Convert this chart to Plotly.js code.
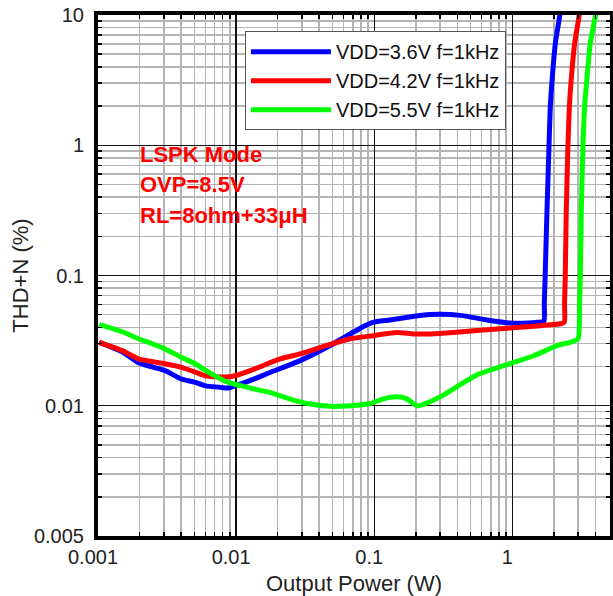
<!DOCTYPE html>
<html><head><meta charset="utf-8">
<script src="https://cdn.plot.ly/plotly-3.0.1.min.js"></script>
<style>html,body{margin:0;padding:0;background:#fff;}</style>
</head><body>
<div id="chart" style="width:613px;height:596px;"></div>
<script>
// Series data (Output Power W, THD+N %)
var seriesNames = ["VDD=3.6V f=1kHz", "VDD=4.2V f=1kHz", "VDD=5.5V f=1kHz"];
var seriesColors = ["#0000ff", "#ff0000", "#00ff00"];

var blueX = [0.00102,0.0015,0.00195,0.0025,0.00306,0.00404,0.005,0.006,0.0075,0.0088,0.0098,0.0126,0.0176,0.0291,0.048,0.067,0.085,0.098,0.13,0.18,0.255,0.30,0.42,0.656,0.967,1.3,1.51,1.69,1.706,1.73,1.784,1.845,1.885,1.95,2.05,2.2,2.25];
var blueY = [0.0307,0.026,0.0215,0.0198,0.0186,0.016,0.0152,0.0142,0.0139,0.0137,0.0142,0.0156,0.018,0.0222,0.029,0.0356,0.041,0.0437,0.0456,0.048,0.0501,0.0504,0.0494,0.0456,0.0432,0.0432,0.0437,0.0445,0.0606,0.1,0.316,1,1.97,3.35,6.06,9.7,12];

var redX = [0.00102,0.0015,0.00196,0.0025,0.00306,0.00404,0.005,0.006,0.0083,0.0098,0.0137,0.0208,0.0291,0.048,0.067,0.098,0.146,0.193,0.255,0.376,0.656,1.02,1.6,2.23,2.38,2.39,2.42,2.46,2.53,2.59,2.68,2.83,3.04,3.1];
var redY = [0.0307,0.0265,0.0229,0.0218,0.021,0.0197,0.0182,0.017,0.0166,0.017,0.0192,0.0229,0.025,0.0296,0.0327,0.0345,0.0365,0.0356,0.0356,0.0365,0.0384,0.0397,0.0412,0.0426,0.0437,0.0606,0.1,0.316,1,1.97,3.35,6.06,9.7,12];

var greenX = [0.00102,0.0015,0.00196,0.0025,0.00306,0.00404,0.00505,0.00667,0.0088,0.011,0.0137,0.0176,0.0246,0.0344,0.048,0.067,0.0935,0.1167,0.146,0.1725,0.19,0.207,0.23,0.30,0.42,0.555,0.774,1.02,1.43,2.11,2.63,2.99,3.07,3.11,3.16,3.25,3.34,3.48,3.67,3.99,4.1];
var greenY = [0.042,0.037,0.0327,0.0298,0.0273,0.0235,0.021,0.0175,0.0151,0.0142,0.0134,0.01265,0.01125,0.0103,0.0099,0.01,0.0104,0.0113,0.0117,0.0113,0.0105,0.0100,0.0103,0.0117,0.0145,0.0173,0.0195,0.0215,0.0242,0.029,0.0307,0.0327,0.0606,0.1,0.316,1,1.97,3.35,6.06,9.7,12];

// Axis ticks
var xMajorVals = [0.001, 0.01, 0.1, 1];
var xMajorText = ["0.001", "0.01", "0.1", "1"];
var yMajorVals = [0.001, 0.01, 0.1, 1, 10];
var yMajorText = ["0.005", "0.01", "0.1", "1", "10"];
var xMinorVals = [0.002,0.003,0.004,0.005,0.006,0.007,0.008,0.009,0.02,0.03,0.04,0.05,0.06,0.07,0.08,0.09,0.2,0.3,0.4,0.5,0.6,0.7,0.8,0.9,2,3,4];
var yMinorVals = [0.002,0.003,0.004,0.005,0.006,0.007,0.008,0.009,0.02,0.03,0.04,0.05,0.06,0.07,0.08,0.09,0.2,0.3,0.4,0.5,0.6,0.7,0.8,0.9,2,3,4,5,6,7,8,9];

var notes = ["LSPK Mode", "OVP=8.5V", "RL=8ohm+33μH"];

var xs = [blueX, redX, greenX];
var ys = [blueY, redY, greenY];
var traces = [];
for (var i = 0; i < 3; i++) {
  traces.push({
    x: xs[i], y: ys[i], type: 'scatter', mode: 'lines',
    name: seriesNames[i],
    line: {color: seriesColors[i], width: 5, shape: 'spline', smoothing: 0.6}
  });
}

var FONT = 'Liberation Sans, Arial, sans-serif';
var xr = [Math.log10(0.001), Math.log10(5.1)];
var yr = [Math.log10(0.001), Math.log10(10)];

function minorSpec(vals) {
  return {tickmode: 'array', tickvals: vals, showgrid: true, gridcolor: '#b4b4b4', gridwidth: 1.5,
          ticks: 'inside', ticklen: 4, tickwidth: 1.5, tickcolor: '#000'};
}

var layout = {
  width: 613, height: 596,
  margin: {l: 98, r: 3, t: 15, b: 60},
  paper_bgcolor: '#ffffff', plot_bgcolor: '#ffffff',
  font: {family: FONT, size: 20, color: '#222'},
  showlegend: true,
  legend: {
    x: 0.287, y: 0.969, xanchor: 'left', yanchor: 'top',
    bgcolor: '#ffffff', bordercolor: '#555', borderwidth: 1,
    font: {family: FONT, size: 20, color: '#111'},
    itemwidth: 80, tracegroupgap: 0
  },
  xaxis: {
    type: 'log', range: xr, tickmode: 'array', tickvals: xMajorVals, ticktext: xMajorText,
    showgrid: true, gridcolor: '#111', gridwidth: 1.3, ticks: '',
    tickfont: {family: FONT, size: 20, color: '#222'}, ticklabelshift: -5, ticklabelstandoff: 0,
    minor: minorSpec(xMinorVals),
    title: {text: 'Output Power (W)', font: {family: FONT, size: 22, color: '#222'}, standoff: 10},
    showline: true, linecolor: '#000', linewidth: 4, mirror: 'ticks', zeroline: false
  },
  yaxis: {
    type: 'log', range: yr, tickmode: 'array', tickvals: yMajorVals, ticktext: yMajorText,
    showgrid: true, gridcolor: '#111', gridwidth: 1.3, ticks: '',
    tickfont: {family: FONT, size: 20, color: '#222'}, ticklabelstandoff: 6,
    minor: minorSpec(yMinorVals),
    title: {text: 'THD+N (%)', font: {family: FONT, size: 22, color: '#222'}, standoff: 0},
    showline: true, linecolor: '#000', linewidth: 4, mirror: 'ticks', zeroline: false
  },
  annotations: notes.map(function (t, k) {
    return {text: '<b>' + t + '</b>', xref: 'paper', yref: 'paper',
      x: 0.078, y: [0.733, 0.674, 0.616][k], xanchor: 'left', yanchor: 'middle',
      showarrow: false, font: {family: FONT, size: 22, color: '#ff0000'}};
  })
};

Plotly.newPlot('chart', traces, layout, {staticPlot: true, displayModeBar: false});
</script>
</body></html>
